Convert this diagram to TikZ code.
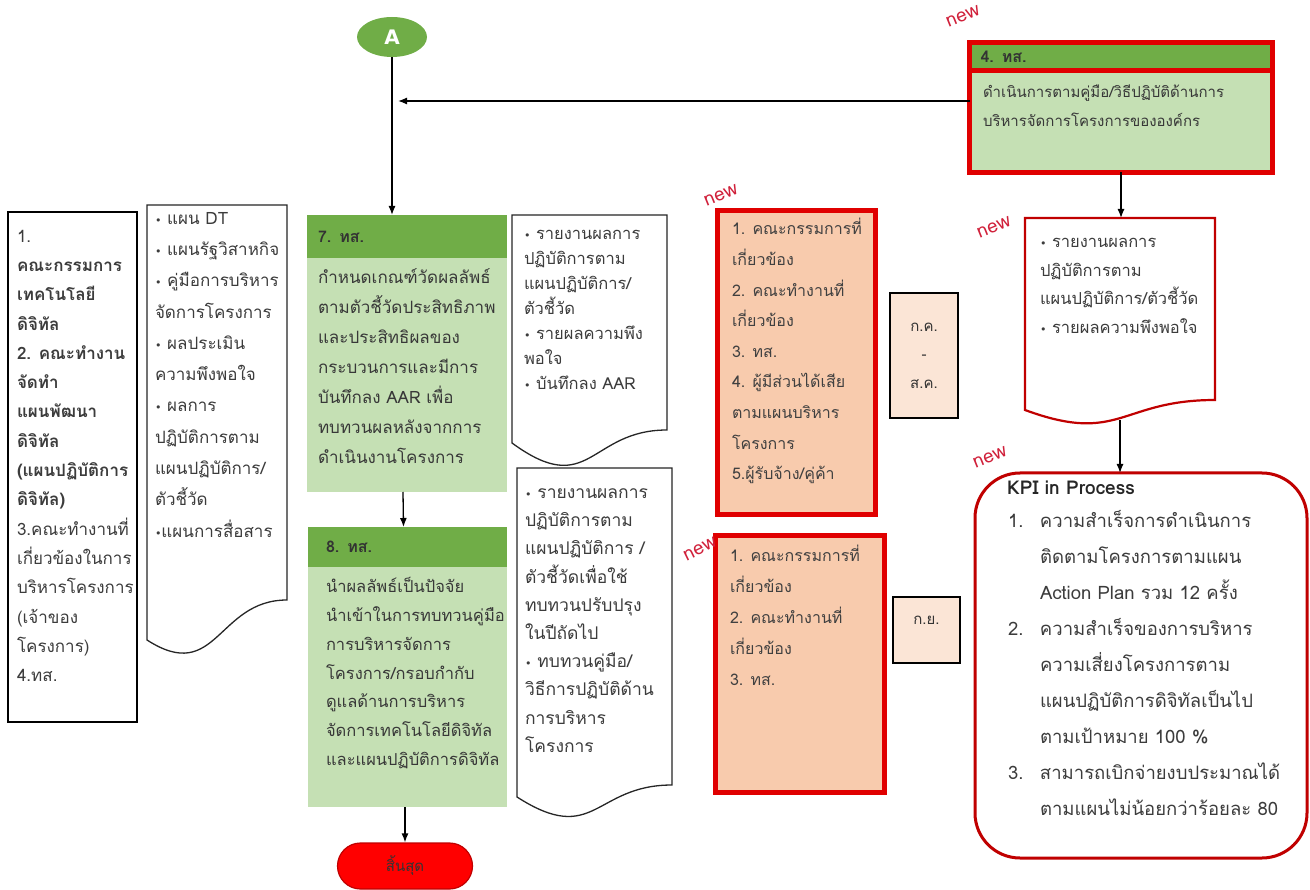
\documentclass[tikz,border=0pt]{standalone}
\usepackage{fontspec}
\setmainfont{Loma}[Script=Thai]
\newfontfamily\dejavu{DejaVu Sans}
\usetikzlibrary{arrows.meta,positioning,shapes.geometric}
\definecolor{hdgreen}{HTML}{70AD47}
\definecolor{bdgreen}{HTML}{C5E0B4}
\definecolor{kred}{HTML}{E00000}
\definecolor{dkred}{HTML}{C00000}
\definecolor{orfill}{HTML}{F8CBAD}
\definecolor{orpale}{HTML}{FBE5D6}
\definecolor{txtgray}{HTML}{3C3C3C}
\definecolor{newred}{HTML}{D0203A}
\newcommand{\bul}{{\dejavu\fontsize{11}{11}\selectfont •}\ }
\begin{document}
\begin{tikzpicture}[x=1pt,y=-1pt,
	plainbox/.style={rectangle,
					draw=black,
					line width=1.6pt,
					fill=white,
					anchor=north west,
					inner sep=0pt, outer sep=0pt},
	docbox/.style={rectangle,
					anchor=north west,
					inner sep=0pt, outer sep=0pt},
	docline/.style={draw=black!85, line width=1.3pt, fill=white},
	greenbox/.style={rectangle,
					fill=bdgreen,
					anchor=north west,
					inner sep=0pt, outer sep=0pt},
	headbar/.style={rectangle,
					fill=hdgreen,
					anchor=north west,
					inner ysep=0pt, outer sep=0pt,
					align=left,
					text=black!80,
					font=\fontsize{16}{16}\selectfont\bfseries},
	orangebox/.style={rectangle,
					draw=kred,
					line width=5pt,
					fill=orfill,
					anchor=north west,
					inner sep=0pt, outer sep=0pt},
	monthbox/.style={rectangle,
					draw=black,
					line width=1.6pt,
					fill=orpale,
					anchor=north west,
					inner sep=0pt, outer sep=0pt},
	txt/.style 2 args={anchor=north west,
					align=left,
					inner sep=0pt, outer sep=0pt,
					text=txtgray,
					font=\fontsize{#1}{#2}\selectfont},
	newtag/.style={text=newred, font=\fontsize{19}{19}\selectfont, rotate=22, inner sep=0pt},
	flow/.style={-{Latex[length=9pt,width=7pt]}, black, line width=1.3pt}
	]
\useasboundingbox (0,0) rectangle (1310,890);

% start connector
\node[ellipse, fill=hdgreen, minimum width=70pt, minimum height=40pt, inner sep=0pt,
	text=white, font=\dejavu\fontsize{20}{20}\selectfont\bfseries] (startA) at (392,37) {A};

% left column: committees and inputs
\node[plainbox, minimum width=129pt, minimum height=510pt] (cmte) at (8,212) {};
\node[txt={17}{29.3}] (cmtetxt) at (17,221.6) {\strut 1.\\
	\textbf{คณะกรรมการ}\\
	\textbf{เทคโนโลยี}\\
	\textbf{ดิจิทัล}\\
	\textbf{2. คณะทำงาน}\\
	\textbf{จัดทำ}\\
	\textbf{แผนพัฒนา}\\
	\textbf{ดิจิทัล}\\
	\textbf{(แผนปฏิบัติการ}\\
	\textbf{ดิจิทัล)}\\
	3.คณะทำงานที่\\
	เกี่ยวข้องในการ\\
	บริหารโครงการ\\
	(เจ้าของ\\
	โครงการ)\\
	4.ทส.};

\node[docbox, minimum width=140pt, minimum height=435pt] (inputs) at (147,205) {};
\draw[docline] (inputs.north west) -- (inputs.north east) -- ([yshift=40pt]inputs.south east)
	.. controls +(-70,0) and +(70,45) .. (inputs.south west) -- cycle;
\node[txt={17}{31.3}] (inputstxt) at (155,202.2) {\strut\bul แผน DT\\
	\bul แผนรัฐวิสาหกิจ\\
	\bul คู่มือการบริหาร\\
	จัดการโครงการ\\
	\bul ผลประเมิน\\
	ความพึงพอใจ\\
	\bul ผลการ\\
	ปฏิบัติการตาม\\
	แผนปฏิบัติการ/\\
	ตัวชี้วัด\\
	{\dejavu\fontsize{11}{11}\selectfont •}แผนการสื่อสาร};

% process 7
\node[greenbox, minimum width=200pt, minimum height=277pt] (b7) at (307,215) {};
\node[headbar, minimum height=43pt, inner xsep=11pt, text width=178pt] (h7) at (b7.north west) {7. ทส.};
\node[txt={17}{30}, text=black!78] (b7txt) at (318,262.1) {\strut กำหนดเกณฑ์วัดผลลัพธ์\\
	ตามตัวชี้วัดประสิทธิภาพ\\
	และประสิทธิผลของ\\
	กระบวนการและมีการ\\
	บันทึกลง AAR เพื่อ\\
	ทบทวนผลหลังจากการ\\
	ดำเนินงานโครงการ};

% process 8
\node[greenbox, minimum width=199pt, minimum height=280pt] (b8) at (308,527) {};
\node[headbar, minimum height=40pt, inner xsep=18pt, text width=163pt] (h8) at (b8.north west) {8. ทส.};
\node[txt={16.5}{28.7}, text=black!78] (b8txt) at (326,572.9) {\strut นำผลลัพธ์เป็นปัจจัย\\
	นำเข้าในการทบทวนคู่มือ\\
	การบริหารจัดการ\\
	โครงการ/กรอบกำกับ\\
	ดูแลด้านการบริหาร\\
	จัดการเทคโนโลยีดิจิทัล\\
	และแผนปฏิบัติการดิจิทัล};

% end
\node[rectangle, rounded corners=23pt, fill=red, draw=dkred, line width=1.2pt,
	minimum width=135pt, minimum height=46pt, inner sep=0pt,
	font=\fontsize{15}{15}\selectfont, text=black!80] (finish) at (405,866) {สิ้นสุด};

% outputs of 7 and 8
\node[docbox, minimum width=155pt, minimum height=228pt] (out7) at (512,215) {};
\draw[docline] (out7.north west) -- (out7.north east) -- ([yshift=13pt]out7.south east)
	.. controls +(-78,0) and +(78,57) .. (out7.south west) -- cycle;
\node[txt={16.5}{25}] (out7txt) at (524,222.5) {\strut\bul รายงานผลการ\\
	ปฏิบัติการตาม\\
	แผนปฏิบัติการ/\\
	ตัวชี้วัด\\
	\bul รายผลความพึง\\
	พอใจ\\
	\bul บันทึกลง AAR};

\node[docbox, minimum width=155pt, minimum height=329pt] (out8) at (517,468) {};
\draw[docline] (out8.north west) -- (out8.north east) -- ([yshift=12pt]out8.south east)
	.. controls +(-78,0) and +(78,50) .. (out8.south west) -- cycle;
\node[txt={17.5}{28.2}] (out8txt) at (525,478.7) {\strut\bul รายงานผลการ\\
	ปฏิบัติการตาม\\
	แผนปฏิบัติการ /\\
	ตัวชี้วัดเพื่อใช้\\
	ทบทวนปรับปรุง\\
	ในปีถัดไป\\
	\bul ทบทวนคู่มือ/\\
	วิธีการปฏิบัติด้าน\\
	การบริหาร\\
	โครงการ};

% stakeholders and periods
\node[orangebox, minimum width=158pt, minimum height=304pt] (stake1) at (717.5,210.5) {};
\node[txt={16}{30.6}, text=black!75] (stake1txt) at (732,213.4) {\strut 1. คณะกรรมการที่\\
	เกี่ยวข้อง\\
	2. คณะทำงานที่\\
	เกี่ยวข้อง\\
	3. ทส.\\
	4. ผู้มีส่วนได้เสีย\\
	ตามแผนบริหาร\\
	โครงการ\\
	5.ผู้รับจ้าง/คู่ค้า};
\node[monthbox, minimum width=68pt, minimum height=125pt, align=center,
	font=\fontsize{15}{28.5}\selectfont, text=black!80] (per1) at (890,293) {ก.ค.\\ -\\ ส.ค.};

\node[orangebox, minimum width=169pt, minimum height=257pt] (stake2) at (715.5,535.5) {};
\node[txt={16}{31}, text=black!75] (stake2txt) at (730,540.1) {\strut 1. คณะกรรมการที่\\
	เกี่ยวข้อง\\
	2. คณะทำงานที่\\
	เกี่ยวข้อง\\
	3. ทส.};
\node[monthbox, minimum width=67pt, minimum height=66pt] (per2) at (893,597) {};
\node[font=\fontsize{15}{15}\selectfont, text=black!80, inner sep=0pt] (per2txt) at (926.5,620) {ก.ย.};

% process 4
\node[greenbox, minimum width=303pt, minimum height=130pt] (proc4) at (969.5,42.5) {};
\node[headbar, draw=kred, line width=5pt, minimum height=28pt, inner xsep=11pt, text width=281pt] (h4) at (proc4.north west) {4. ทส.};
\draw[kred, line width=5pt] (proc4.north west) rectangle (proc4.south east);
\node[txt={15}{29}, text=black!78] (proc4txt) at (983,77.2) {\strut ดำเนินการตามคู่มือ/วิธีปฏิบัติด้านการ\\
	บริหารจัดการโครงการขององค์กร};

% report of 4
\node[docbox, minimum width=190pt, minimum height=192pt] (rep4) at (1025,218) {};
\draw[docline, draw=dkred, line width=2.2pt] (rep4.north west) -- (rep4.north east) -- ([yshift=10pt]rep4.south east)
	.. controls +(-95,0) and +(95,35) .. (rep4.south west) -- cycle;
\node[txt={16.5}{28.5}] (rep4txt) at (1040,228) {\strut\bul รายงานผลการ\\
	ปฏิบัติการตาม\\
	แผนปฏิบัติการ/ตัวชี้วัด\\
	\bul รายผลความพึงพอใจ};

% KPI
\node[rectangle, rounded corners=45pt, draw=dkred, line width=3pt, fill=white,
	minimum width=332pt, minimum height=385pt, anchor=north west, inner sep=0pt, outer sep=0pt] (kpi) at (975,473) {};
\node[anchor=base west, inner sep=0pt, font=\fontsize{19}{19}\selectfont\bfseries, text=black!85] (kpititle) at (1007,495) {KPI in Process};
\node[txt={18.5}{36}] (kpitxt) at (1008,502.3) {\strut\makebox[32pt][l]{1.}ความสำเร็จการดำเนินการ\\
	\hspace*{32pt}ติดตามโครงการตามแผน\\
	\hspace*{32pt}Action Plan รวม 12 ครั้ง\\
	\makebox[32pt][l]{2.}ความสำเร็จของการบริหาร\\
	\hspace*{32pt}ความเสี่ยงโครงการตาม\\
	\hspace*{32pt}แผนปฏิบัติการดิจิทัลเป็นไป\\
	\hspace*{32pt}ตามเป้าหมาย 100 \%\\
	\makebox[32pt][l]{3.}สามารถเบิกจ่ายงบประมาณได้\\
	\hspace*{32pt}ตามแผนไม่น้อยกว่าร้อยละ 80};

% new tags
\node[newtag] (new4) at (963,16) {new};
\node[newtag] (newstake1) at (721,195) {new};
\node[newtag] (newrep4) at (994,227) {new};
\node[newtag, rotate=4] (newstake2) at (700,549) {new};
\node[newtag] (newkpi) at (990,457) {new};

% connectors
\coordinate (joinA) at (398,101);
\draw[flow] (startA.south) -- (startA.south |- b7.north);
\draw[flow] (proc4.west |- joinA) -- (joinA);
\draw[flow] ([xshift=-4pt]b7.south) -- ([xshift=-4pt]b8.north);
\draw[flow] (finish.north |- b8.south) -- (finish.north);
\draw[flow] (proc4.south) -- (proc4.south |- rep4.north);
\draw[flow] ([yshift=-10pt]rep4.south) -- (rep4.south |- kpi.north);
\end{tikzpicture}
\end{document}
